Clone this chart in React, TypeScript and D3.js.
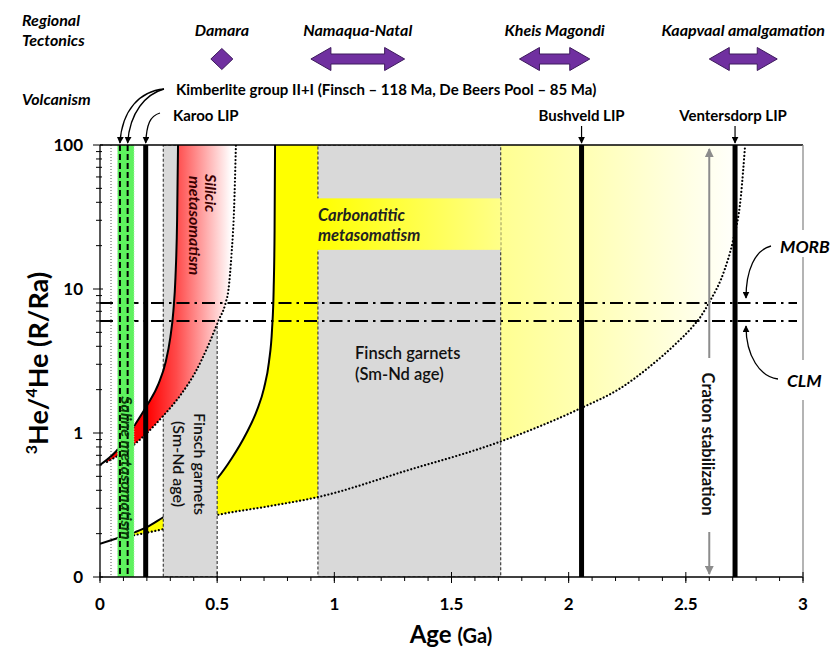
import React from "react";
import * as d3 from "d3";

type Pt = [number, number];

// ---- axes ----
const ageTicks = [0, 0.5, 1, 1.5, 2, 2.5, 3];
const ageTickLabels = ["0", "0.5", "1", "1.5", "2", "2.5", "3"];
const ratioTicks = [0.1, 1, 10, 100];
const ratioTickLabels = ["0", "1", "10", "100"];

// ---- helium evolution curves (age Ga, R/Ra) ----
const silicicUpper: Pt[] = [
  [0, 0.6], [0.07, 0.75], [0.143, 1.1], [0.2, 1.55], [0.25, 2.2], [0.28, 3.1],
  [0.3, 4.6], [0.313, 7], [0.322, 12], [0.329, 30], [0.333, 100],
];
const silicicLower: Pt[] = [
  [0.03, 0.63], [0.143, 0.825], [0.205, 1.016], [0.269, 1.31], [0.341, 1.81],
  [0.41, 2.7], [0.461, 4.02], [0.505, 6.0], [0.536, 8.0], [0.548, 9.84],
  [0.561, 17.2], [0.572, 35.4], [0.58, 100],
];
const carbUpper: Pt[] = [
  [0, 0.17], [0.07, 0.185], [0.15, 0.205], [0.2, 0.222], [0.27, 0.26],
  [0.35, 0.31], [0.43, 0.38], [0.5006, 0.484], [0.563, 0.67], [0.623, 0.984],
  [0.67, 1.44], [0.7, 2.05], [0.721, 3.11], [0.734, 5.19], [0.741, 9.84],
  [0.745, 25.6], [0.747, 100],
];
const carbLower: Pt[] = [
  [0.1, 0.19], [0.143, 0.195], [0.271, 0.215], [0.502, 0.27], [0.72, 0.31],
  [0.933, 0.36], [1.312, 0.55], [1.707, 0.87], [2.049, 1.48], [2.219, 2.04],
  [2.347, 2.9], [2.454, 4.12], [2.526, 5.41], [2.565, 6.49], [2.599, 8.03],
  [2.665, 13.55], [2.7, 21.2], [2.735, 44.2], [2.753, 100],
];

// ---- bands & markers ----
const garnetBandStart = [0.27, 0.93];
const garnetBandEnd = [0.5, 1.71];
const salineBand = [0.075, 0.145];
const kimberliteAges = [0.085, 0.118];
const thinLineAge = 0.047;
const lipNames = ["Karoo LIP", "Bushveld LIP", "Ventersdorp LIP"];
const lipAges = [0.195, 2.055, 2.71];
const stripAges = [0.777, 1.71];
const stripRatios = [18.7, 42.6];
const morbRatio = 8;
const clmRatio = 6;
const cratonAge = 2.6;
const tectonicNames = ["Damara", "Namaqua-Natal", "Kheis Magondi", "Kaapvaal amalgamation"];
const tectonicStart = [0.52, 0.9, 1.79, 2.6];
const tectonicEnd = [0.52, 1.3, 2.09, 2.89];

const FONT = "Lato, 'Open Sans', sans-serif";

export default function App() {
  const x = d3.scaleLinear().domain([0, 3]).range([100, 803]);
  const y = d3.scaleLog().domain([0.1, 100]).range([577, 145]);
  const [x0, x1] = x.range();
  const [yB, yT] = y.range();

  const line = d3.line<Pt>().x((d) => x(d[0])).y((d) => y(d[1])).curve(d3.curveMonotoneX);
  const areaBelow = d3.area<Pt>().x((d) => x(d[0])).y0(yB).y1((d) => y(d[1])).curve(d3.curveMonotoneX);
  const areaAbove = d3.area<Pt>().x((d) => x(d[0])).y0(yT).y1((d) => y(d[1])).curve(d3.curveMonotoneX);

  const minorX = x.ticks(30);
  const minorY = y.ticks().filter((t) => !ratioTicks.some((r) => Math.abs(r - t) < 1e-9));

  const dashDot = "13 5 2.5 5";
  const dots = "0.01 3.6";

  const blockArrow = (a: number, b: number, cy: number) => {
    const xa = x(a), xb = x(b), H = 11.5, s = 5, hl = 20;
    return `M${xa},${cy} L${xa + hl},${cy - H} L${xa + hl},${cy - s} L${xb - hl},${cy - s} L${xb - hl},${cy - H} L${xb},${cy} L${xb - hl},${cy + H} L${xb - hl},${cy + s} L${xa + hl},${cy + s} L${xa + hl},${cy + H} Z`;
  };

  const lastAge = (arr: Pt[]) => arr[arr.length - 1][0];
  const headerCy = 59;

  return (
    <svg width={832} height={650} style={{ position: "absolute", left: 0, top: 0, background: "#fff" }} fontFamily={FONT}>
      <defs>
        <linearGradient id="gRed" gradientUnits="userSpaceOnUse" x1={x(0.2)} x2={x(0.56)} y1={0} y2={0}>
          <stop offset="0" stopColor="#ff0000" />
          <stop offset="0.35" stopColor="#ff4a4a" />
          <stop offset="1" stopColor="#ffffff" />
        </linearGradient>
        <linearGradient id="gYellow" gradientUnits="userSpaceOnUse" x1={x(0.9)} x2={x(2.75)} y1={0} y2={0}>
          <stop offset="0" stopColor="#ffff00" />
          <stop offset="0.44" stopColor="#ffff92" />
          <stop offset="0.65" stopColor="#ffffb8" />
          <stop offset="1" stopColor="#ffffff" />
        </linearGradient>
        <linearGradient id="gStrip" gradientUnits="userSpaceOnUse" x1={x(0.93)} x2={x(1.71)} y1={0} y2={0}>
          <stop offset="0" stopColor="#ffff00" />
          <stop offset="1" stopColor="#ffff88" />
        </linearGradient>
        <clipPath id="clipCarb">
          <path d={areaBelow(carbUpper) || ""} />
          <rect x={x(lastAge(carbUpper))} y={yT} width={x1 - x(lastAge(carbUpper))} height={yB - yT} />
        </clipPath>
        <clipPath id="clipSil">
          <path d={areaBelow(silicicUpper) || ""} />
          <rect x={x(lastAge(silicicUpper))} y={yT} width={x1 - x(lastAge(silicicUpper))} height={yB - yT} />
        </clipPath>
        <clipPath id="clipPlot">
          <rect x={x0} y={yT} width={x1 - x0} height={yB - yT} />
        </clipPath>
        <marker id="ah" viewBox="0 0 10 10" refX="9" refY="5" markerWidth="7" markerHeight="7" markerUnits="userSpaceOnUse" orient="auto">
          <path d="M0,0 L10,5 L0,10 Z" fill="#000" />
        </marker>
        <marker id="ahg" viewBox="0 0 10 10" refX="9" refY="5" markerWidth="9" markerHeight="9" markerUnits="userSpaceOnUse" orient="auto">
          <path d="M0,0 L10,5 L0,10 Z" fill="#8c8c8c" />
        </marker>
      </defs>

      <g clipPath="url(#clipPlot)">
        {/* carbonatitic (yellow) field */}
        <path d={areaAbove(carbLower) || ""} fill="url(#gYellow)" clipPath="url(#clipCarb)" />
        <path d={line(carbUpper) || ""} fill="none" stroke="#000" strokeWidth={2} />

        {/* second garnet band */}
        <rect x={x(garnetBandStart[1])} y={yT} width={x(garnetBandEnd[1]) - x(garnetBandStart[1])} height={yB - yT}
          fill="#d9d9d9" stroke="#333" strokeWidth={1.1} strokeDasharray="3 2" />
        {/* carbonatitic strip */}
        <rect x={x(stripAges[0])} y={y(stripRatios[1])} width={x(stripAges[1]) - x(stripAges[0])} height={y(stripRatios[0]) - y(stripRatios[1])}
          fill="url(#gStrip)" />
        <path d={line(carbLower) || ""} fill="none" stroke="#000" strokeWidth={2.2} strokeDasharray={dots} strokeLinecap="round" />

        {/* first garnet band */}
        <rect x={x(garnetBandStart[0])} y={yT} width={x(garnetBandEnd[0]) - x(garnetBandStart[0])} height={yB - yT}
          fill="#d9d9d9" stroke="#333" strokeWidth={1.1} strokeDasharray="3 2" />

        {/* silicic (red) field */}
        <path d={areaAbove(silicicLower) || ""} fill="url(#gRed)" clipPath="url(#clipSil)" />
        <path d={line(silicicUpper) || ""} fill="none" stroke="#000" strokeWidth={2} />
        <path d={line(silicicLower) || ""} fill="none" stroke="#000" strokeWidth={2.2} strokeDasharray={dots} strokeLinecap="round" />

        {/* MORB / CLM */}
        <line x1={x0} x2={797} y1={y(morbRatio)} y2={y(morbRatio)} stroke="#000" strokeWidth={2} strokeDasharray={dashDot} />
        <line x1={x0} x2={797} y1={y(clmRatio)} y2={y(clmRatio)} stroke="#000" strokeWidth={2} strokeDasharray={dashDot} />

        {/* thin dotted line */}
        <line x1={x(thinLineAge)} x2={x(thinLineAge)} y1={yT} y2={yB} stroke="#555" strokeWidth={1} strokeDasharray="1 2" />

        {/* saline band */}
        <rect x={x(salineBand[0])} y={yT} width={x(salineBand[1]) - x(salineBand[0])} height={yB - yT}
          fill="#5ef25e" stroke="#a8f0a8" strokeWidth={1} strokeDasharray="1 1.5" />
        {kimberliteAges.map((a, i) => (
          <line key={i} x1={x(a)} x2={x(a)} y1={yT} y2={yB} stroke="#000" strokeWidth={2} strokeDasharray="6 3" />
        ))}

        {/* LIPs */}
        {lipAges.map((a, i) => (
          <line key={i} x1={x(a)} x2={x(a)} y1={yT} y2={yB} stroke="#000" strokeWidth={5} />
        ))}

        {/* craton stabilization arrow */}
        <line x1={x(cratonAge)} x2={x(cratonAge)} y1={358} y2={149} stroke="#8c8c8c" strokeWidth={2} markerEnd="url(#ahg)" />
        <line x1={x(cratonAge)} x2={x(cratonAge)} y1={532} y2={574} stroke="#8c8c8c" strokeWidth={2} markerEnd="url(#ahg)" />
      </g>

      {/* in-plot texts */}
      <text transform={`translate(120.5,468) rotate(90)`} textAnchor="middle" fontSize={16} fontStyle="italic" fontWeight="bold" fill="#0a3d0a">Saline metasomatism</text>
      <text transform={`translate(205,174) rotate(90)`} fontSize={16} fontStyle="italic" fontWeight="bold" fill="#3a0000">Silicic</text>
      <text transform={`translate(189,176) rotate(90)`} fontSize={16} fontStyle="italic" fontWeight="bold" fill="#3a0000">metasomatism</text>
      <text transform={`translate(194,464) rotate(90)`} textAnchor="middle" fontSize={16} fontWeight={600} fill="#111">Finsch garnets</text>
      <text transform={`translate(173,464) rotate(90)`} textAnchor="middle" fontSize={16} fontWeight={600} fill="#111">(Sm-Nd age)</text>
      <text x={355} y={359} fontSize={16.5} fontWeight={600} fill="#111">Finsch garnets</text>
      <text x={355} y={380} fontSize={16.5} fontWeight={600} fill="#111">(Sm-Nd age)</text>
      <text x={318} y={221} fontSize={16.5} fontStyle="italic" fontWeight="bold" fill="#222">Carbonatitic</text>
      <text x={318} y={241} fontSize={16.5} fontStyle="italic" fontWeight="bold" fill="#222">metasomatism</text>
      <text transform={`translate(702,444) rotate(90)`} textAnchor="middle" fontSize={16.5} fontWeight="bold" fill="#111">Craton stabilization</text>

      {/* frame & axes */}
      <line x1={x0} x2={x1} y1={yT} y2={yT} stroke="#000" strokeWidth={1.3} />
      <line x1={x0} x2={x1} y1={yB} y2={yB} stroke="#000" strokeWidth={1.3} />
      <line x1={x0} x2={x0} y1={yT} y2={yB} stroke="#000" strokeWidth={1.3} />
      <line x1={x1} x2={x1} y1={yT} y2={230} stroke="#8c8c8c" strokeWidth={1.3} />
      <line x1={x1} x2={x1} y1={257} y2={360} stroke="#8c8c8c" strokeWidth={1.3} />
      <line x1={x1} x2={x1} y1={400} y2={yB} stroke="#8c8c8c" strokeWidth={1.3} />

      {minorX.map((t, i) => (
        <line key={"mx" + i} x1={x(t)} x2={x(t)} y1={yB} y2={yB + 4} stroke="#000" strokeWidth={1} />
      ))}
      {ageTicks.map((t, i) => (
        <g key={"ax" + i}>
          <line x1={x(t)} x2={x(t)} y1={yB - 5} y2={yB + 6} stroke="#000" strokeWidth={1} />
          <text x={x(t)} y={610} textAnchor="middle" fontSize={17} fontWeight="bold">{ageTickLabels[i]}</text>
        </g>
      ))}
      {minorY.map((t, i) => (
        <line key={"my" + i} x1={x0 - 4} x2={x0 + 2} y1={y(t)} y2={y(t)} stroke="#000" strokeWidth={1} />
      ))}
      {ratioTicks.map((t, i) => (
        <g key={"ay" + i}>
          <line x1={x0 - 7} x2={x0 + 3} y1={y(t)} y2={y(t)} stroke="#000" strokeWidth={1} />
          <text x={83} y={y(t) + 6} textAnchor="end" fontSize={17} fontWeight="bold">{ratioTickLabels[i]}</text>
        </g>
      ))}

      <text x={451} y={643} textAnchor="middle" fontWeight="bold">
        <tspan fontSize={24}>Age </tspan>
        <tspan fontSize={20}>(Ga)</tspan>
      </text>
      <text transform="translate(48,363) rotate(-90)" textAnchor="middle" fontWeight="bold" fontSize={27}>
        <tspan fontSize={16} dy={-11}>3</tspan>
        <tspan dy={11}>He/</tspan>
        <tspan fontSize={16} dy={-11}>4</tspan>
        <tspan dy={11}>He (R/Ra)</tspan>
      </text>

      {/* header labels */}
      <text x={22} y={26} fontSize={16} fontStyle="italic" fontWeight="bold">Regional</text>
      <text x={22} y={46} fontSize={16} fontStyle="italic" fontWeight="bold">Tectonics</text>
      <text x={22} y={105} fontSize={16} fontStyle="italic" fontWeight="bold">Volcanism</text>

      {tectonicNames.map((n, i) => {
        const cx = (x(tectonicStart[i]) + x(tectonicEnd[i])) / 2;
        const isPoint = tectonicStart[i] === tectonicEnd[i];
        return (
          <g key={"t" + i}>
            <text x={cx} y={36} textAnchor="middle" fontSize={16} fontStyle="italic" fontWeight="bold">{n}</text>
            {isPoint ? (
              <path d={`M${cx},${headerCy - 10.5} L${cx + 11},${headerCy} L${cx},${headerCy + 10.5} L${cx - 11},${headerCy} Z`} fill="#7030a0" stroke="#3d1a5c" strokeWidth={1} />
            ) : (
              <path d={blockArrow(tectonicStart[i], tectonicEnd[i], headerCy)} fill="#7030a0" stroke="#3d1a5c" strokeWidth={1} />
            )}
          </g>
        );
      })}

      <text x={176} y={95} fontSize={15} fontWeight="bold">Kimberlite group II+I (Finsch – 118 Ma, De Beers Pool – 85 Ma)</text>
      <text x={173} y={121} fontSize={15} fontWeight="bold">{lipNames[0]}</text>
      <text x={x(lipAges[1])} y={121} textAnchor="middle" fontSize={15} fontWeight="bold">{lipNames[1]}</text>
      <text x={x(lipAges[2]) - 2} y={121} textAnchor="middle" fontSize={15} fontWeight="bold">{lipNames[2]}</text>

      <path d={`M164,89 C140,91 ${x(kimberliteAges[0]) + 2},110 ${x(kimberliteAges[0])},143`} fill="none" stroke="#000" strokeWidth={1.3} markerEnd="url(#ah)" />
      <path d={`M164,89 C146,94 ${x(kimberliteAges[1]) + 2},112 ${x(kimberliteAges[1])},143`} fill="none" stroke="#000" strokeWidth={1.3} markerEnd="url(#ah)" />
      <path d={`M160,113 C150,116 ${x(lipAges[0]) + 1},124 ${x(lipAges[0])},143`} fill="none" stroke="#000" strokeWidth={1.3} markerEnd="url(#ah)" />
      <line x1={x(lipAges[1])} x2={x(lipAges[1])} y1={126} y2={143} stroke="#000" strokeWidth={1.2} markerEnd="url(#ah)" />
      <line x1={x(lipAges[2])} x2={x(lipAges[2])} y1={126} y2={143} stroke="#000" strokeWidth={1.2} markerEnd="url(#ah)" />

      <text x={780} y={253} fontSize={17.5} fontStyle="italic" fontWeight="bold">MORB</text>
      <text x={787} y={387} fontSize={17.5} fontStyle="italic" fontWeight="bold">CLM</text>
      <path d={`M771,246 C755,250 746,270 746,${y(morbRatio) - 5}`} fill="none" stroke="#000" strokeWidth={1.3} markerEnd="url(#ah)" />
      <path d={`M778,379 C760,377 746,356 746,${y(clmRatio) + 5}`} fill="none" stroke="#000" strokeWidth={1.3} markerEnd="url(#ah)" />
    </svg>
  );
}
